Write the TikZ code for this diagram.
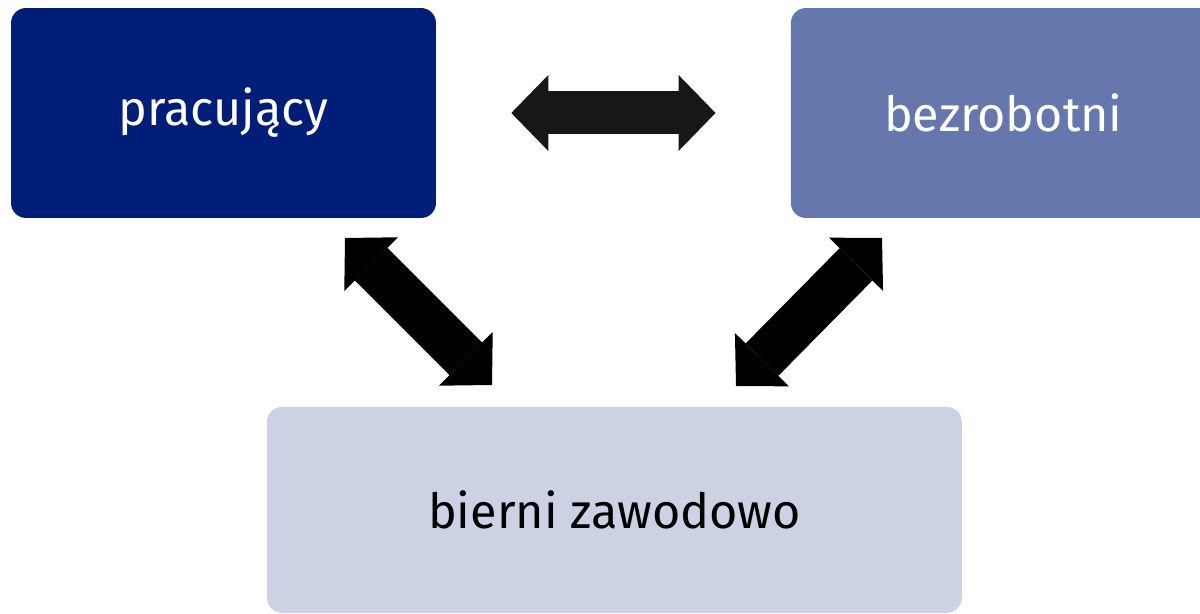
\documentclass[tikz,border=0pt]{standalone}
\usepackage{fontspec}
\setmainfont{Fira Sans}
\usetikzlibrary{arrows.meta, positioning}

\definecolor{pracblue}{RGB}{0,30,120}
\definecolor{bezrblue}{RGB}{102,119,173}
\definecolor{biernblue}{RGB}{204,209,228}
\definecolor{arrowgray}{RGB}{23,23,23}

\tikzset{
  bigtip/.tip = {Triangle[length=0.74cm, width=1.52cm, line width=0pt]},
  box/.style = {rectangle, rounded corners=0.3cm, minimum width=8.5cm,
    minimum height=4.2cm, font=\fontsize{27.6}{33}\selectfont},
  flow/.style = {line width=0.86cm, bigtip-bigtip}
}

\begin{document}
\begin{tikzpicture} [x=0.02cm, y=-0.02cm, on grid]

\useasboundingbox (0,0) rectangle (1200,614);
\clip (0,0) rectangle (1200,614);

\node (prac) [box, fill=pracblue, text=white] at (223.5,113) {pracujący};
\node (bezr) [box, fill=bezrblue, text=white, right = 15.6cm of prac] {bezrobotni};
\node (bierni) [box, fill=biernblue, minimum width=13.9cm, minimum height=4.12cm,
  below right = 7.94cm and 7.82cm of prac] {bierni zawodowo};

% arrow ends
\coordinate (prac low) at (345,238);
\coordinate (bierni left) at (492,385);
\coordinate (bezr low) at (882,238);
\coordinate (bierni right) at (736,386);

\path [flow, draw=arrowgray, shorten <=1.5cm, shorten >=1.5cm]
  (prac.east) -- (prac.east -| bezr.west);
\path [flow, draw=black, line width=0.92cm]
  (prac low) -- (bierni left);
\path [flow, draw=black, line width=0.92cm]
  (bezr low) -- (bierni right);

\end{tikzpicture}
\end{document}
